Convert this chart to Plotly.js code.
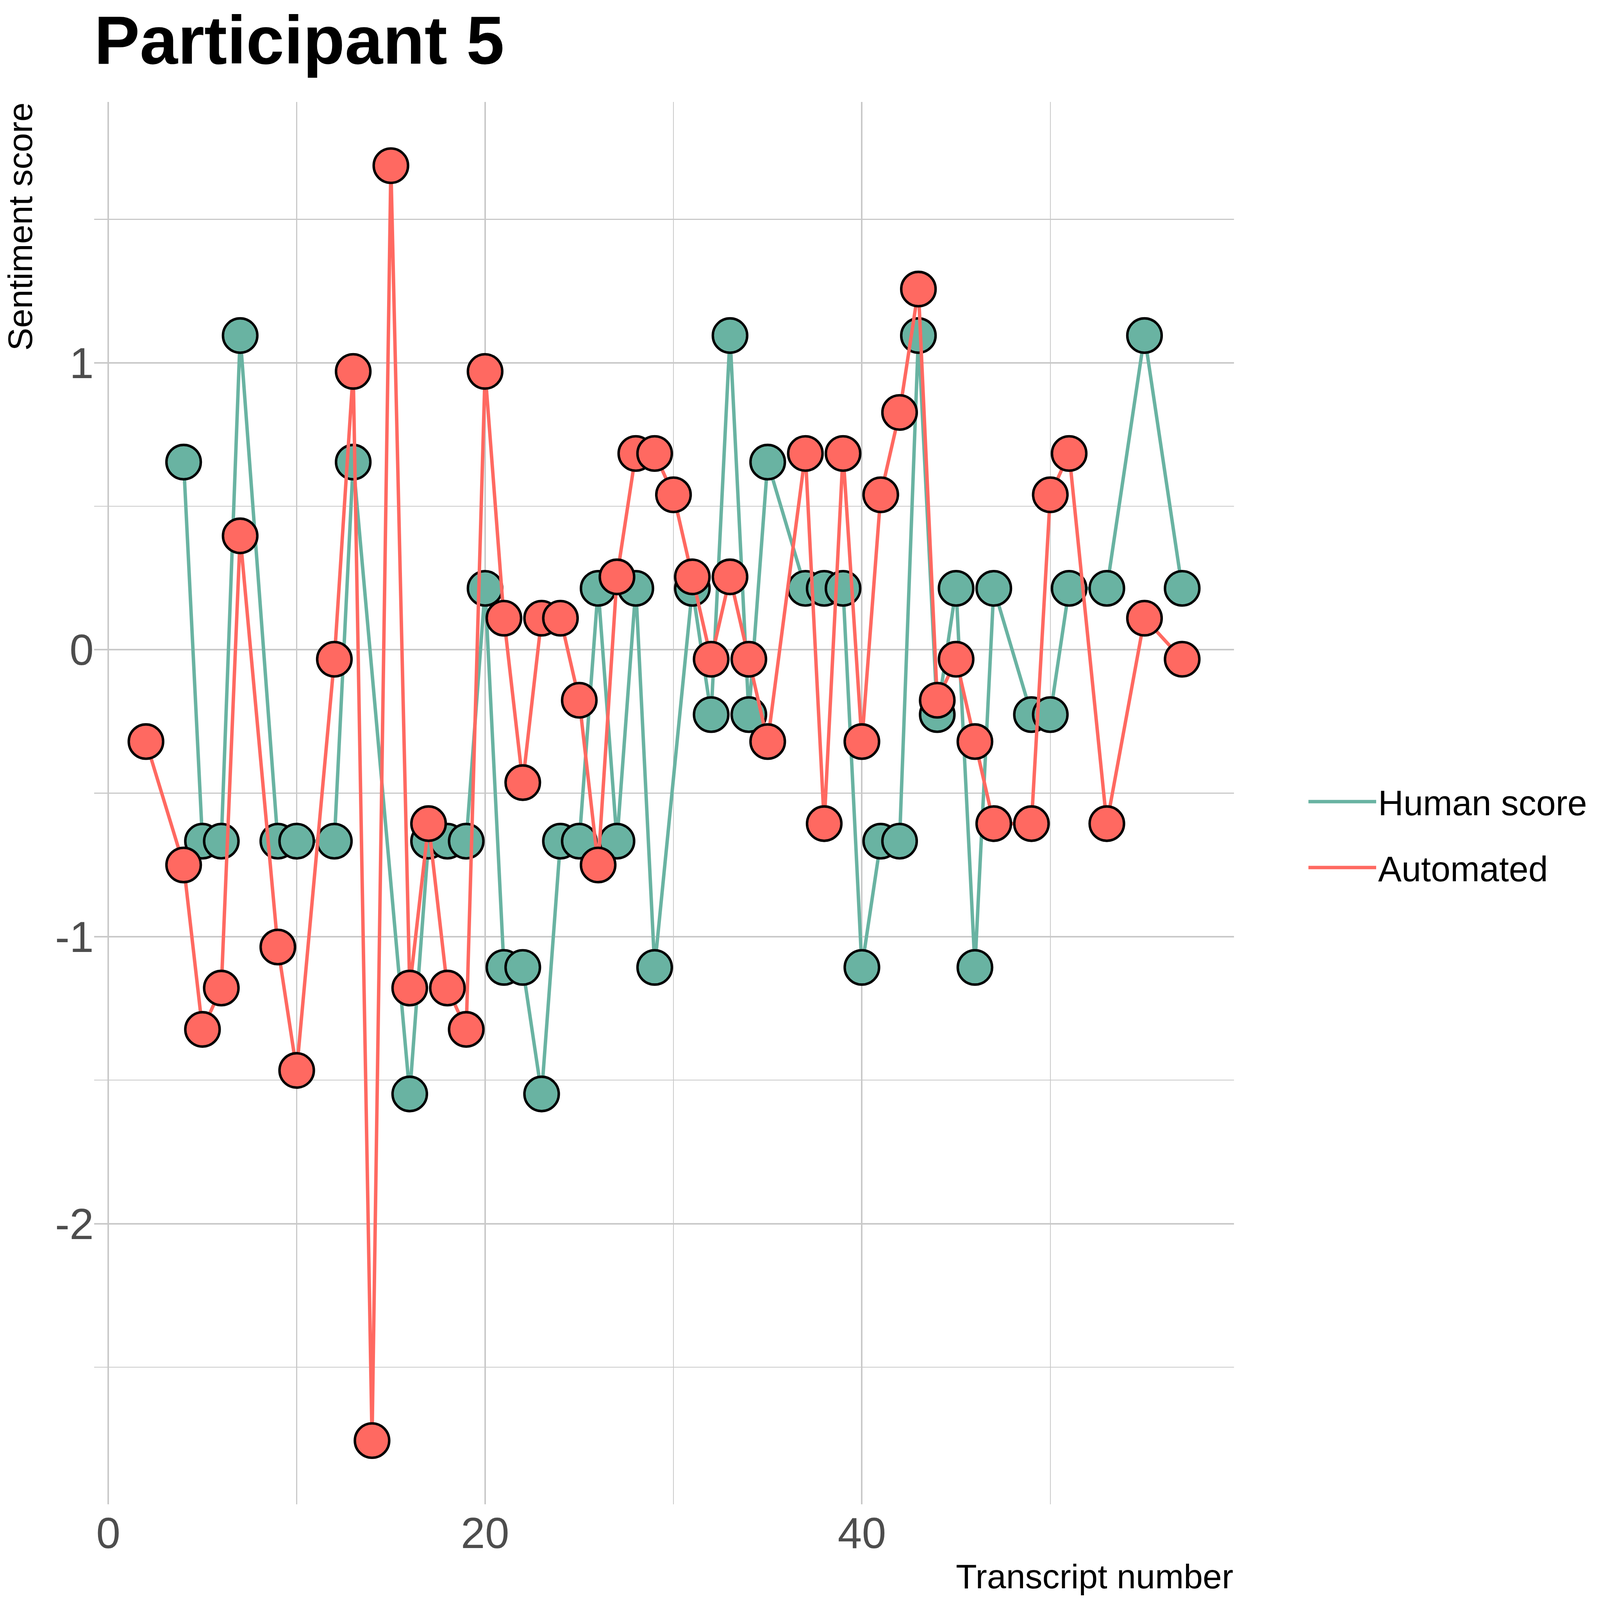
<!DOCTYPE html>
<html>
<head>
<meta charset="utf-8">
<script src="https://cdn.plot.ly/plotly-3.0.1.min.js"></script>
<style>html,body{margin:0;padding:0;background:#fff;overflow:hidden;}</style>
</head>
<body>
<div id="chart"></div>
<script>
// ---- Data ----
const seriesNames = ["Human score", "Automated"];

const humanX = [4,5,6,7,9,10,12,13,16,17,18,19,20,21,22,23,24,25,26,27,28,29,31,32,33,34,35,37,38,39,40,41,42,43,44,45,46,47,49,50,51,53,55,57];
const humanY = [0.654,-0.667,-0.667,1.095,-0.667,-0.667,-0.667,0.654,-1.548,-0.667,-0.667,-0.667,0.214,-1.107,-1.107,-1.548,-0.667,-0.667,0.214,-0.667,0.214,-1.107,0.214,-0.226,1.095,-0.226,0.654,0.214,0.214,0.214,-1.107,-0.667,-0.667,1.095,-0.226,0.214,-1.107,0.214,-0.226,-0.226,0.214,0.214,1.095,0.214];

const autoX = [2,4,5,6,7,9,10,12,13,14,15,16,17,18,19,20,21,22,23,24,25,26,27,28,29,30,31,32,33,34,35,37,38,39,40,41,42,43,44,45,46,47,49,50,51,53,55,57];
const autoY = [-0.320,-0.750,-1.323,-1.179,0.397,-1.036,-1.466,-0.033,0.970,-2.756,1.687,-1.179,-0.606,-1.179,-1.323,0.970,0.110,-0.463,0.110,0.110,-0.176,-0.750,0.254,0.684,0.684,0.540,0.254,-0.033,0.254,-0.033,-0.320,0.684,-0.606,0.684,-0.320,0.540,0.827,1.257,-0.176,-0.033,-0.320,-0.606,-0.606,0.540,0.684,-0.606,0.110,-0.033];

const xTickVals = [0, 20, 40];
const yTickVals = [-2, -1, 0, 1];
const yTickText = ["-2", "-1", "0", "1"];

// ---- Styling ----
const FONT = "Liberation Sans, Arial, Helvetica, sans-serif";
const GREEN = "#69b3a2";
const RED = "#ff6961";
const GRID = "#c9c9c9";

// Fit the figure to the visible viewport (design size 4134 x 4191)
const W0 = 4134, H0 = 4191;
const W = document.documentElement.clientWidth || window.innerWidth || W0;
const H = document.documentElement.clientHeight || window.innerHeight || H0;
const sx = W / W0, sy = H / H0, s = Math.min(sx, sy);
document.getElementById("chart").style.width = W + "px";
document.getElementById("chart").style.height = H + "px";

const M = {l: 243.5 * sx, r: 945.4 * sx, t: 266.6 * sy, b: 251 * sy, pad: 0};

function dataTrace(name, x, y, color) {
  return {
    type: "scatter", mode: "lines+markers", name: name, x: x, y: y,
    showlegend: false, hoverinfo: "skip",
    line: {color: color, width: 9 * s},
    marker: {color: color, size: 90 * s, line: {color: "#000000", width: 6.5 * s}}
  };
}
function legendTrace(name, color, group) {
  return {
    type: "scatter", mode: "lines", name: name, x: [null], y: [null],
    showlegend: true, legendgroup: group, hoverinfo: "skip",
    line: {color: color, width: 9 * s}
  };
}

const traces = [
  dataTrace(seriesNames[0], humanX, humanY, GREEN),
  dataTrace(seriesNames[1], autoX, autoY, RED),
  legendTrace(seriesNames[0], GREEN, "g1"),
  legendTrace(seriesNames[1], RED, "g2")
];

const layout = {
  width: W, height: H,
  margin: M,
  paper_bgcolor: "#ffffff", plot_bgcolor: "#ffffff",
  font: {family: FONT, color: "#000000", size: 90 * s},
  title: {
    text: "<b>Participant 5</b>",
    font: {family: FONT, size: 179 * s, color: "#000000"},
    xref: "paper", x: 0, xanchor: "left",
    yref: "container", y: 0.990, yanchor: "top", pad: {t: 0, b: 0, l: 0, r: 0}
  },
  xaxis: {
    range: [-0.75, 59.75], autorange: false,
    tickvals: xTickVals, ticks: "", showline: false, zeroline: false,
    showgrid: true, gridcolor: GRID, gridwidth: 4 * s,
    minor: {dtick: 10, tick0: 0, showgrid: true, gridcolor: GRID, gridwidth: 2.5 * s, ticks: ""},
    tickfont: {family: FONT, size: 114 * s, color: "#4d4d4d"},
    ticklabelstandoff: 6 * sy
  },
  yaxis: {
    range: [-2.978, 1.909], autorange: false,
    tickvals: yTickVals, ticktext: yTickText, ticks: "", showline: false, zeroline: false,
    showgrid: true, gridcolor: GRID, gridwidth: 4 * s,
    minor: {dtick: 0.5, tick0: 0.5, showgrid: true, gridcolor: GRID, gridwidth: 2.5 * s, ticks: ""},
    tickfont: {family: FONT, size: 114 * s, color: "#4d4d4d"},
    ticklabelstandoff: 31 * sx
  },
  legend: {
    x: 1.0636, xanchor: "left", y: 0.4775, yanchor: "middle",
    font: {family: FONT, size: 92 * s, color: "#000000"},
    bgcolor: "rgba(0,0,0,0)", borderwidth: 0,
    traceorder: "grouped", tracegroupgap: 50 * sy, itemwidth: 175 * sx
  },
  annotations: [
    {
      text: "Sentiment score", textangle: -90, showarrow: false,
      xref: "paper", yref: "paper", x: -0.065, xanchor: "center", y: 1, yanchor: "top",
      font: {family: FONT, size: 90 * s, color: "#000000"}
    },
    {
      text: "Transcript number", showarrow: false,
      xref: "paper", yref: "paper", x: 1, xanchor: "right", y: -0.0515, yanchor: "middle",
      font: {family: FONT, size: 90 * s, color: "#000000"}
    }
  ]
};

Plotly.newPlot("chart", traces, layout, {staticPlot: true, displayModeBar: false});
</script>
</body>
</html>
